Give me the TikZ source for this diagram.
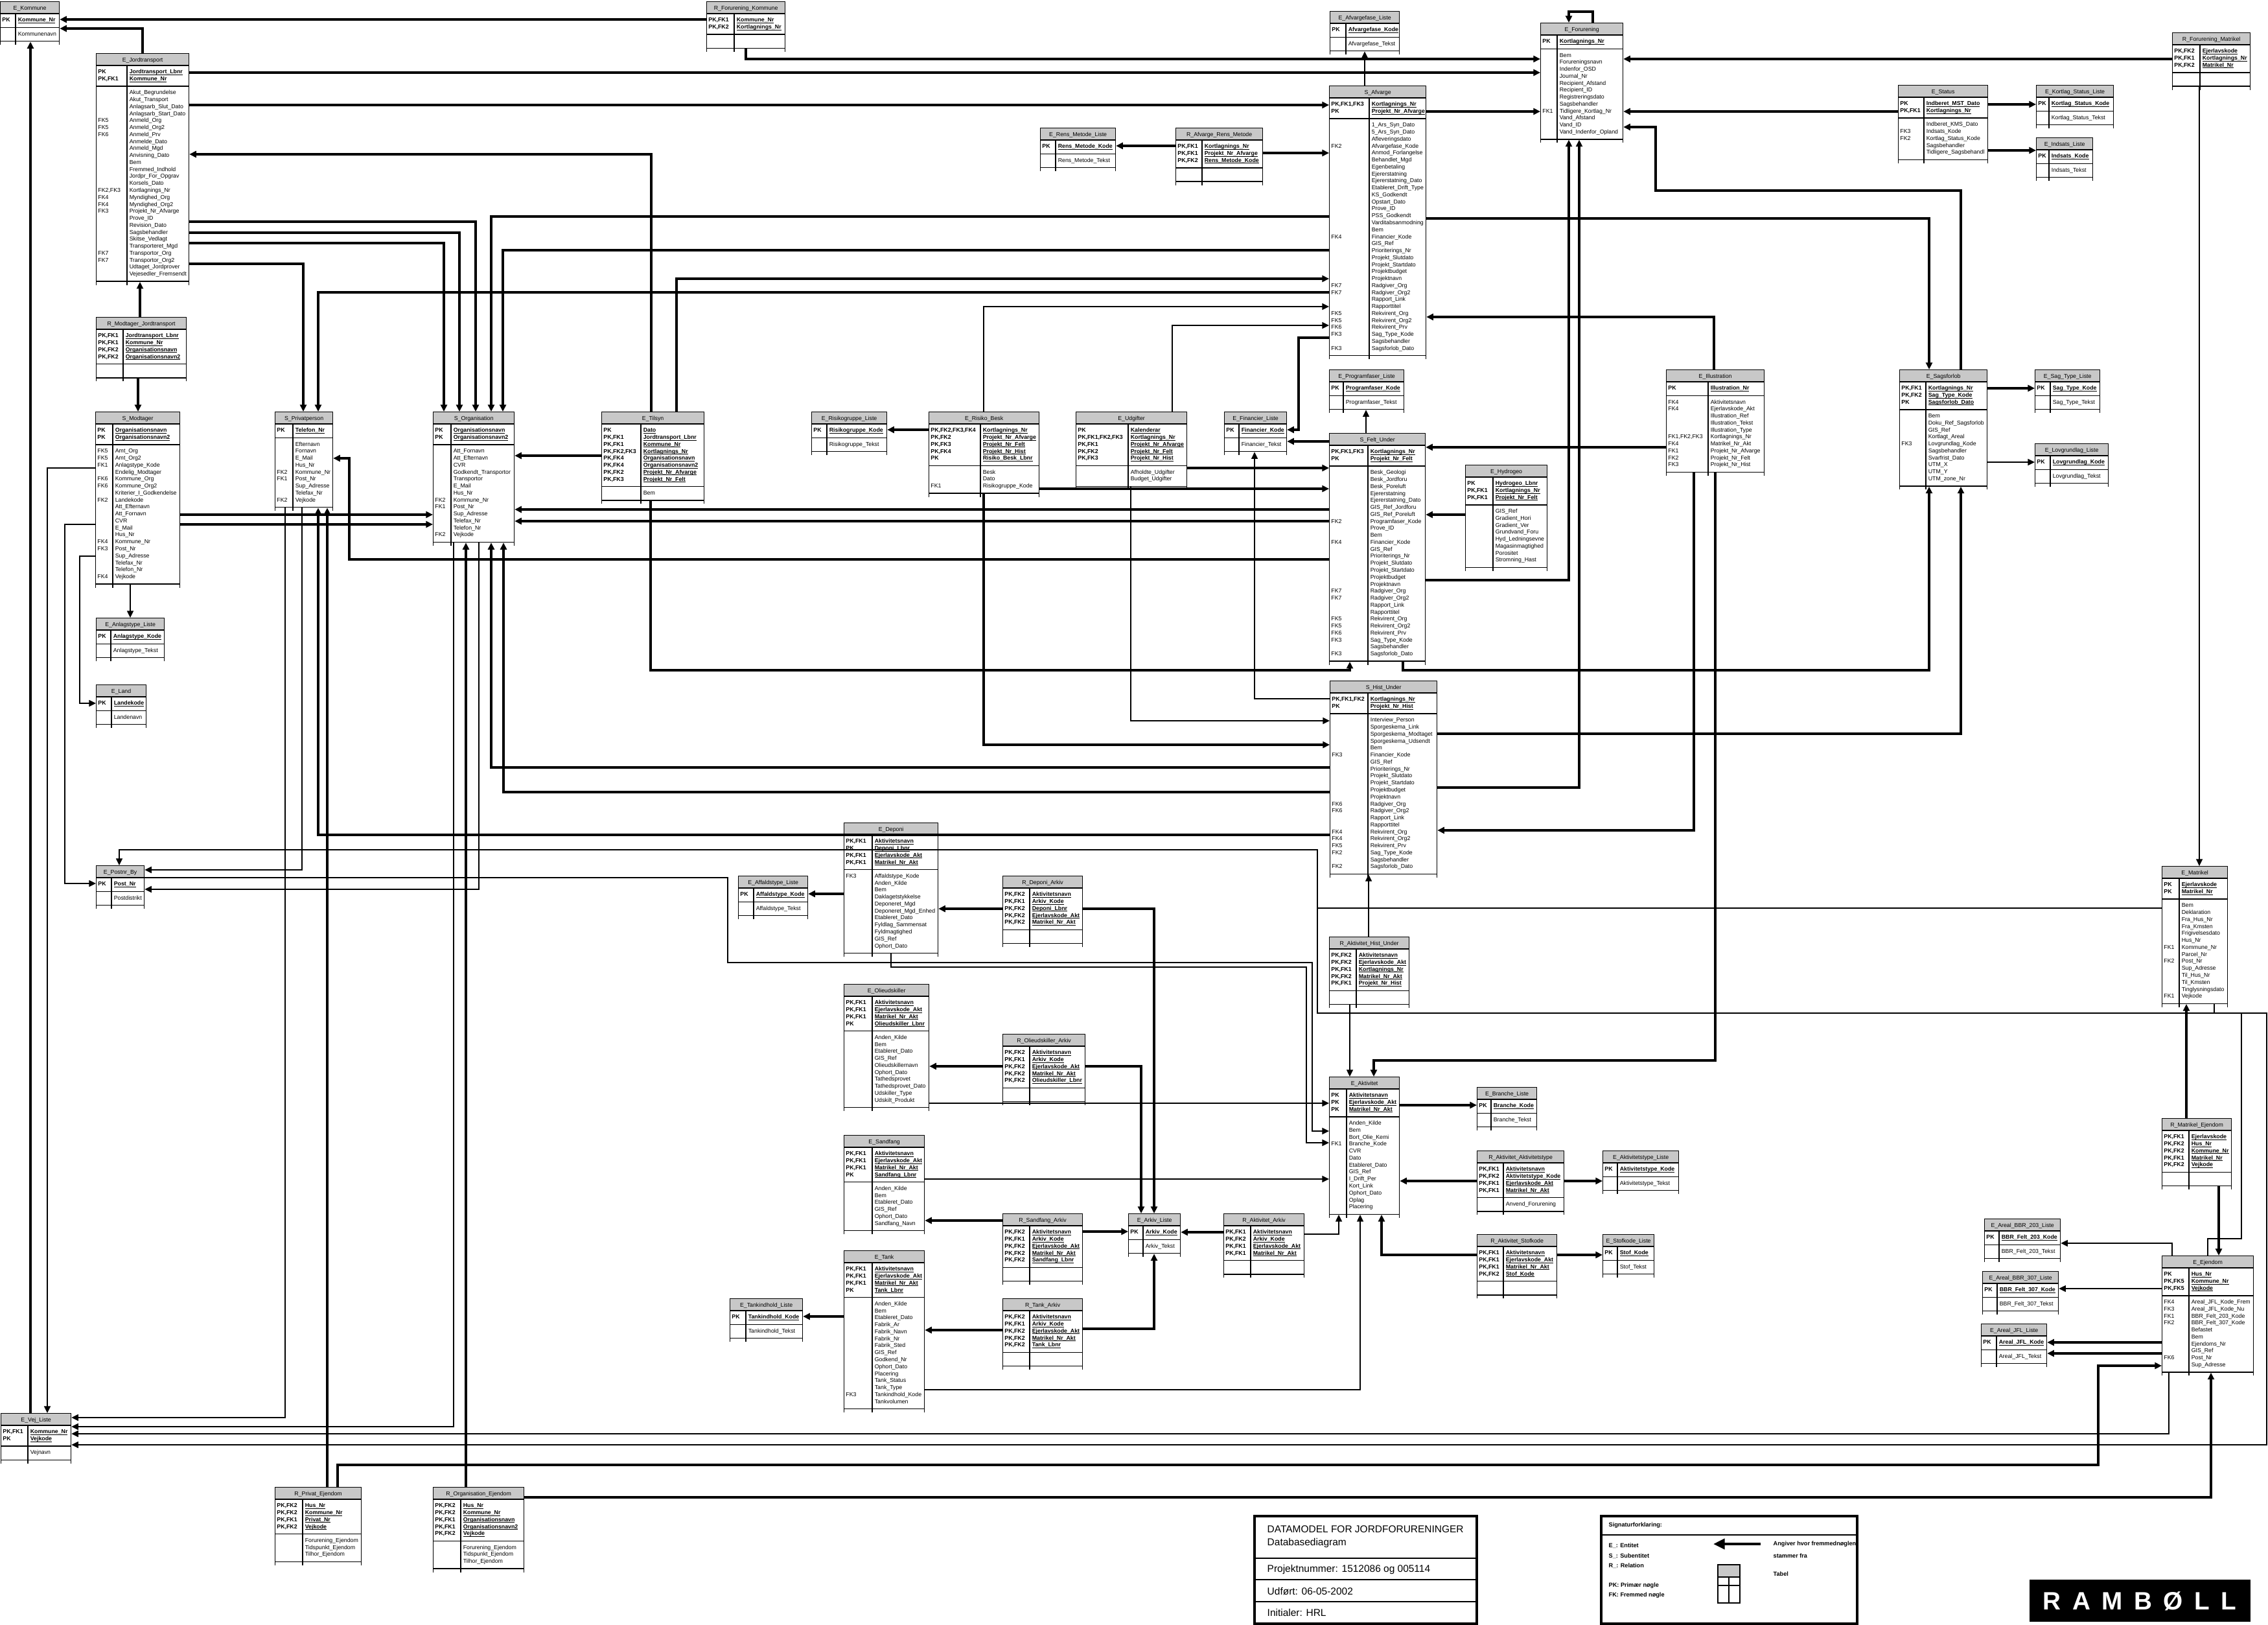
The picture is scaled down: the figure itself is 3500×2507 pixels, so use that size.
\documentclass[tikz,border=0pt]{standalone}
\usepackage{fontspec}
\setmainfont{Liberation Sans}
\usepackage{array}
\usepackage{xcolor}
\usepackage{tikz}
\usetikzlibrary{arrows.meta,backgrounds}

\definecolor{ttlgray}{RGB}{200,200,200}
\newlength{\pxl}
\setlength{\pxl}{0.01cm}
\newcommand{\tabfont}{\fontsize{2.5}{3.06}\selectfont}
\newcommand{\ukey}[1]{\setbox0=\hbox{#1}\rlap{\rule[-0.5pt]{\wd0}{0.22pt}}\box0}
\newcommand{\pk}[2]{\textbf{#1}&\ukey{\textbf{#2}}\\}
\newcommand{\at}[2]{#1&#2\\}
\newcommand{\pad}{&\\[-1.76pt]}
% table: name, position, key width, name width, title, keys, attributes
\newcommand{\tabel}[7]{%
  \node[tbl] (#1) at (#2) {\begin{tabular}{|@{\hspace{2\pxl}}w{l}{#3\pxl}@{\hspace{1\pxl}}|@{\hspace{3\pxl}}w{l}{#4\pxl}@{\hspace{1\pxl}}|}
    \hline\multicolumn{2}{|@{}c@{}|}{\rule[-1.47pt]{0pt}{4.8pt}#5}\\\hline
    \pad#6\pad\hline\pad#7\pad\hline\end{tabular}};
  \begin{pgfonlayer}{background}
    \fill[ttlgray] (#1.north west) rectangle ([yshift=-5.25pt]#1.north east);
  \end{pgfonlayer}}

\begin{document}
\catcode`\_=12
\begin{tikzpicture}[x=0.01cm, y=-0.01cm,
  tbl/.style={anchor=north west, inner sep=0pt, outer sep=0pt, font=\tabfont},
  rel/.style={line width=0.45pt, -{Triangle[length=3pt,width=2.8pt]}},
  relb/.style={line width=0.9pt, -{Triangle[length=3pt,width=2.8pt]}},
  lnk/.style={line width=0.45pt},
  txt/.style={anchor=west, inner sep=0pt, font=\fontsize{4.4}{5}\selectfont},
  leg/.style={anchor=west, inner sep=0pt, font=\fontsize{2.6}{3.2}\selectfont\bfseries}]
\useasboundingbox (0,0) rectangle (3500,2507);

% tables, left part
\tabel{kom}{0,2}{19}{62}{E_Kommune}{\pk{PK}{Kommune_Nr}}{\at{}{Kommunenavn}}
\tabel{rforkom}{1090,2}{38}{73}{R_Forurening_Kommune}{\pk{PK,FK1}{Kommune_Nr}\pk{PK,FK2}{Kortlagnings_Nr}}{\at{}{}}
\tabel{jord}{148,82}{43}{90}{E_Jordtransport}{\pk{PK}{Jordtransport_Lbnr}\pk{PK,FK1}{Kommune_Nr}}{\at{}{Akut_Begrundelse}\at{}{Akut_Transport}\at{}{Anlagsarb_Slut_Dato}\at{}{Anlagsarb_Start_Dato}\at{FK5}{Anmeld_Org}\at{FK5}{Anmeld_Org2}\at{FK6}{Anmeld_Prv}\at{}{Anmelde_Dato}\at{}{Anmeld_Mgd}\at{}{Anvisning_Dato}\at{}{Bem}\at{}{Fremmed_Indhold}\at{}{Jordpr_For_Opgrav}\at{}{Korsels_Dato}\at{FK2,FK3}{Kortlagnings_Nr}\at{FK4}{Myndighed_Org}\at{FK4}{Myndighed_Org2}\at{FK3}{Projekt_Nr_Afvarge}\at{}{Prove_ID}\at{}{Revision_Dato}\at{}{Sagsbehandler}\at{}{Skitse_Vedlagt}\at{}{Transporteret_Mgd}\at{FK7}{Transportor_Org}\at{FK7}{Transportor_Org2}\at{}{Udtaget_Jordprover}\at{}{Vejesedler_Fremsendt}}
\tabel{rmodjord}{148,489}{37}{92}{R_Modtager_Jordtransport}{\pk{PK,FK1}{Jordtransport_Lbnr}\pk{PK,FK1}{Kommune_Nr}\pk{PK,FK2}{Organisationsnavn}\pk{PK,FK2}{Organisationsnavn2}}{\at{}{}}
\tabel{smod}{147,635}{22}{98}{S_Modtager}{\pk{PK}{Organisationsnavn}\pk{PK}{Organisationsnavn2}}{\at{FK5}{Amt_Org}\at{FK5}{Amt_Org2}\at{FK1}{Anlagstype_Kode}\at{}{Endelig_Modtager}\at{FK6}{Kommune_Org}\at{FK6}{Kommune_Org2}\at{}{Kriterier_I_Godkendelse}\at{FK2}{Landekode}\at{}{Att_Efternavn}\at{}{Att_Fornavn}\at{}{CVR}\at{}{E_Mail}\at{}{Hus_Nr}\at{FK4}{Kommune_Nr}\at{FK3}{Post_Nr}\at{}{Sup_Adresse}\at{}{Telefax_Nr}\at{}{Telefon_Nr}\at{FK4}{Vejkode}}
\tabel{anlag}{148,953}{18}{77}{E_Anlagstype_Liste}{\pk{PK}{Anlagstype_Kode}}{\at{}{Anlagstype_Tekst}}
\tabel{sprv}{424,635}{23}{56}{S_Privatperson}{\pk{PK}{Telefon_Nr}}{\at{}{Efternavn}\at{}{Fornavn}\at{}{E_Mail}\at{}{Hus_Nr}\at{FK2}{Kommune_Nr}\at{FK1}{Post_Nr}\at{}{Sup_Adresse}\at{}{Telefax_Nr}\at{FK2}{Vejkode}}
\tabel{sorg}{668,635}{23}{92}{S_Organisation}{\pk{PK}{Organisationsnavn}\pk{PK}{Organisationsnavn2}}{\at{}{Att_Fornavn}\at{}{Att_Efternavn}\at{}{CVR}\at{}{Godkendt_Transportor}\at{}{Transportor}\at{}{E_Mail}\at{}{Hus_Nr}\at{FK2}{Kommune_Nr}\at{FK1}{Post_Nr}\at{}{Sup_Adresse}\at{}{Telefax_Nr}\at{}{Telefon_Nr}\at{FK2}{Vejkode}}
\tabel{tilsyn}{928,635}{56}{92}{E_Tilsyn}{\pk{PK}{Dato}\pk{PK,FK1}{Jordtransport_Lbnr}\pk{PK,FK1}{Kommune_Nr}\pk{PK,FK2,FK3}{Kortlagnings_Nr}\pk{PK,FK4}{Organisationsnavn}\pk{PK,FK4}{Organisationsnavn2}\pk{PK,FK2}{Projekt_Nr_Afvarge}\pk{PK,FK3}{Projekt_Nr_Felt}}{\at{}{Bem}}
\tabel{land}{148,1056}{19}{48}{E_Land}{\pk{PK}{Landekode}}{\at{}{Landenavn}}
\tabel{post}{148,1335}{19}{45}{E_Postnr_By}{\pk{PK}{Post_Nr}}{\at{}{Postdistrikt}}
\tabel{vej}{1,2180}{37}{61}{E_Vej_Liste}{\pk{PK,FK1}{Kommune_Nr}\pk{PK}{Vejkode}}{\at{}{Vejnavn}}
\tabel{rprvejd}{424,2294}{38}{85}{R_Privat_Ejendom}{\pk{PK,FK2}{Hus_Nr}\pk{PK,FK2}{Kommune_Nr}\pk{PK,FK1}{Privat_Nr}\pk{PK,FK2}{Vejkode}}{\at{}{Forurening_Ejendom}\at{}{Tidspunkt_Ejendom}\at{}{Tilhor_Ejendom}}
\tabel{rorgejd}{668,2294}{38}{92}{R_Organisation_Ejendom}{\pk{PK,FK2}{Hus_Nr}\pk{PK,FK2}{Kommune_Nr}\pk{PK,FK1}{Organisationsnavn}\pk{PK,FK1}{Organisationsnavn2}\pk{PK,FK2}{Vejkode}}{\at{}{Forurening_Ejendom}\at{}{Tidspunkt_Ejendom}\at{}{Tilhor_Ejendom}}

% tables, middle part
\tabel{risgrp}{1252,635}{19}{87}{E_Risikogruppe_Liste}{\pk{PK}{Risikogruppe_Kode}}{\at{}{Risikogruppe_Tekst}}
\tabel{risbesk}{1433,635}{75}{85}{E_Risiko_Besk}{\pk{PK,FK2,FK3,FK4}{Kortlagnings_Nr}\pk{PK,FK2}{Projekt_Nr_Afvarge}\pk{PK,FK3}{Projekt_Nr_Felt}\pk{PK,FK4}{Projekt_Nr_Hist}\pk{PK}{Risiko_Besk_Lbnr}}{\at{}{Besk}\at{}{Dato}\at{FK1}{Risikogruppe_Kode}}
\tabel{udg}{1660,635}{76}{85}{E_Udgifter}{\pk{PK}{Kalenderar}\pk{PK,FK1,FK2,FK3}{Kortlagnings_Nr}\pk{PK,FK1}{Projekt_Nr_Afvarge}\pk{PK,FK2}{Projekt_Nr_Felt}\pk{PK,FK3}{Projekt_Nr_Hist}}{\at{}{Afholdte_Udgifter}\at{}{Budget_Udgifter}}
\tabel{fin}{1889,635}{18}{68}{E_Financier_Liste}{\pk{PK}{Financier_Kode}}{\at{}{Financier_Tekst}}
\tabel{rens}{1605,197}{19}{87}{E_Rens_Metode_Liste}{\pk{PK}{Rens_Metode_Kode}}{\at{}{Rens_Metode_Tekst}}
\tabel{rafvrens}{1814,197}{36}{88}{R_Afvarge_Rens_Metode}{\pk{PK,FK1}{Kortlagnings_Nr}\pk{PK,FK1}{Projekt_Nr_Afvarge}\pk{PK,FK2}{Rens_Metode_Kode}}{\at{}{}}
\tabel{afvfase}{2052,17}{20}{77}{E_Afvargefase_Liste}{\pk{PK}{Afvargefase_Kode}}{\at{}{Afvargefase_Tekst}}
\tabel{forur}{2377,35}{21}{96}{E_Forurening}{\pk{PK}{Kortlagnings_Nr}}{\at{}{Bem}\at{}{Forureningsnavn}\at{}{Indenfor_OSD}\at{}{Journal_Nr}\at{}{Recipient_Afstand}\at{}{Recipient_ID}\at{}{Registreringsdato}\at{}{Sagsbehandler}\at{FK1}{Tidligere_Kortlag_Nr}\at{}{Vand_Afstand}\at{}{Vand_ID}\at{}{Vand_Indenfor_Opland}}
\tabel{safv}{2051,132}{57}{82}{S_Afvarge}{\pk{PK,FK1,FK3}{Kortlagnings_Nr}\pk{PK}{Projekt_Nr_Afvarge}}{\at{}{1_Ars_Syn_Dato}\at{}{5_Ars_Syn_Dato}\at{}{Afleveringsdato}\at{FK2}{Afvargefase_Kode}\at{}{Anmod_Forlangelse}\at{}{Behandlet_Mgd}\at{}{Egenbetaling}\at{}{Ejererstatning}\at{}{Ejererstatning_Dato}\at{}{Etableret_Drift_Type}\at{}{KS_Godkendt}\at{}{Opstart_Dato}\at{}{Prove_ID}\at{}{PSS_Godkendt}\at{}{Varditabsanmodning}\at{}{Bem}\at{FK4}{Financier_Kode}\at{}{GIS_Ref}\at{}{Prioriterings_Nr}\at{}{Projekt_Slutdato}\at{}{Projekt_Startdato}\at{}{Projektbudget}\at{}{Projektnavn}\at{FK7}{Radgiver_Org}\at{FK7}{Radgiver_Org2}\at{}{Rapport_Link}\at{}{Rapporttitel}\at{FK5}{Rekvirent_Org}\at{FK5}{Rekvirent_Org2}\at{FK6}{Rekvirent_Prv}\at{FK3}{Sag_Type_Kode}\at{}{Sagsbehandler}\at{FK3}{Sagsforlob_Dato}}
\tabel{prog}{2051,570}{17}{88}{E_Programfaser_Liste}{\pk{PK}{Programfaser_Kode}}{\at{}{Programfaser_Tekst}}
\tabel{sfelt}{2051,668}{55}{83}{S_Felt_Under}{\pk{PK,FK1,FK3}{Kortlagnings_Nr}\pk{PK}{Projekt_Nr_Felt}}{\at{}{Besk_Geologi}\at{}{Besk_Jordforu}\at{}{Besk_Poreluft}\at{}{Ejererstatning}\at{}{Ejererstatning_Dato}\at{}{GIS_Ref_Jordforu}\at{}{GIS_Ref_Poreluft}\at{FK2}{Programfaser_Kode}\at{}{Prove_ID}\at{}{Bem}\at{FK4}{Financier_Kode}\at{}{GIS_Ref}\at{}{Prioriterings_Nr}\at{}{Projekt_Slutdato}\at{}{Projekt_Startdato}\at{}{Projektbudget}\at{}{Projektnavn}\at{FK7}{Radgiver_Org}\at{FK7}{Radgiver_Org2}\at{}{Rapport_Link}\at{}{Rapporttitel}\at{FK5}{Rekvirent_Org}\at{FK5}{Rekvirent_Org2}\at{FK6}{Rekvirent_Prv}\at{FK3}{Sag_Type_Kode}\at{}{Sagsbehandler}\at{FK3}{Sagsforlob_Dato}}
\tabel{hydro}{2261,717}{38}{78}{E_Hydrogeo}{\pk{PK}{Hydrogeo_Lbnr}\pk{PK,FK1}{Kortlagnings_Nr}\pk{PK,FK1}{Projekt_Nr_Felt}}{\at{}{GIS_Ref}\at{}{Gradient_Hori}\at{}{Gradient_Ver}\at{}{Grundvand_Foru}\at{}{Hyd_Ledningsevne}\at{}{Magasinmagtighed}\at{}{Porositet}\at{}{Stromning_Hast}}
\tabel{shist}{2052,1050}{54}{101}{S_Hist_Under}{\pk{PK,FK1,FK2}{Kortlagnings_Nr}\pk{PK}{Projekt_Nr_Hist}}{\at{}{Interview_Person}\at{}{Sporgeskema_Link}\at{}{Sporgeskema_Modtaget}\at{}{Sporgeskema_Udsendt}\at{}{Bem}\at{FK3}{Financier_Kode}\at{}{GIS_Ref}\at{}{Prioriterings_Nr}\at{}{Projekt_Slutdato}\at{}{Projekt_Startdato}\at{}{Projektbudget}\at{}{Projektnavn}\at{FK6}{Radgiver_Org}\at{FK6}{Radgiver_Org2}\at{}{Rapport_Link}\at{}{Rapporttitel}\at{FK4}{Rekvirent_Org}\at{FK4}{Rekvirent_Org2}\at{FK5}{Rekvirent_Prv}\at{FK2}{Sag_Type_Kode}\at{}{Sagsbehandler}\at{FK2}{Sagsforlob_Dato}}
\tabel{rakthist}{2051,1445}{37}{76}{R_Aktivitet_Hist_Under}{\pk{PK,FK2}{Aktivitetsnavn}\pk{PK,FK2}{Ejerlavskode_Akt}\pk{PK,FK1}{Kortlagnings_Nr}\pk{PK,FK2}{Matrikel_Nr_Akt}\pk{PK,FK1}{Projekt_Nr_Hist}}{\at{}{}}
\tabel{akt}{2051,1661}{22}{76}{E_Aktivitet}{\pk{PK}{Aktivitetsnavn}\pk{PK}{Ejerlavskode_Akt}\pk{PK}{Matrikel_Nr_Akt}}{\at{}{Anden_Kilde}\at{}{Bem}\at{}{Bort_Olie_Kemi}\at{FK1}{Branche_Kode}\at{}{CVR}\at{}{Dato}\at{}{Etableret_Dato}\at{}{GIS_Ref}\at{}{I_Drift_Per}\at{}{Kort_Link}\at{}{Ophort_Dato}\at{}{Oplag}\at{}{Placering}}
\tabel{branche}{2279,1677}{17}{65}{E_Branche_Liste}{\pk{PK}{Branche_Kode}}{\at{}{Branche_Tekst}}
\tabel{raktt}{2279,1775}{36}{88}{R_Aktivitet_Aktivitetstype}{\pk{PK,FK1}{Aktivitetsnavn}\pk{PK,FK2}{Aktivitetstype_Kode}\pk{PK,FK1}{Ejerlavskode_Akt}\pk{PK,FK1}{Matrikel_Nr_Akt}}{\at{}{Anvend_Forurening}}
\tabel{akttype}{2473,1775}{18}{89}{E_Aktivitetstype_Liste}{\pk{PK}{Aktivitetstype_Kode}}{\at{}{Aktivitetstype_Tekst}}
\tabel{rstof}{2279,1904}{36}{77}{R_Aktivitet_Stofkode}{\pk{PK,FK1}{Aktivitetsnavn}\pk{PK,FK1}{Ejerlavskode_Akt}\pk{PK,FK1}{Matrikel_Nr_Akt}\pk{PK,FK2}{Stof_Kode}}{\at{}{}}
\tabel{stof}{2473,1904}{18}{51}{E_Stofkode_Liste}{\pk{PK}{Stof_Kode}}{\at{}{Stof_Tekst}}
\tabel{arkiv}{1741,1872}{18}{52}{E_Arkiv_Liste}{\pk{PK}{Arkiv_Kode}}{\at{}{Arkiv_Tekst}}
\tabel{raktark}{1888,1872}{37}{77}{R_Aktivitet_Arkiv}{\pk{PK,FK1}{Aktivitetsnavn}\pk{PK,FK2}{Arkiv_Kode}\pk{PK,FK1}{Ejerlavskode_Akt}\pk{PK,FK1}{Matrikel_Nr_Akt}}{\at{}{}}
\tabel{dep}{1302,1269}{39}{96}{E_Deponi}{\pk{PK,FK1}{Aktivitetsnavn}\pk{PK}{Deponi_Lbnr}\pk{PK,FK1}{Ejerlavskode_Akt}\pk{PK,FK1}{Matrikel_Nr_Akt}}{\at{FK3}{Affaldstype_Kode}\at{}{Anden_Kilde}\at{}{Bem}\at{}{Daklagetstykkelse}\at{}{Deponeret_Mgd}\at{}{Deponeret_Mgd_Enhed}\at{}{Etableret_Dato}\at{}{Fyldlag_Sammensat}\at{}{Fyldmagtighed}\at{}{GIS_Ref}\at{}{Ophort_Dato}}
\tabel{affald}{1139,1351}{19}{78}{E_Affaldstype_Liste}{\pk{PK}{Affaldstype_Kode}}{\at{}{Affaldstype_Tekst}}
\tabel{rdeparch}{1547,1351}{37}{76}{R_Deponi_Arkiv}{\pk{PK,FK2}{Aktivitetsnavn}\pk{PK,FK1}{Arkiv_Kode}\pk{PK,FK2}{Deponi_Lbnr}\pk{PK,FK2}{Ejerlavskode_Akt}\pk{PK,FK2}{Matrikel_Nr_Akt}}{\at{}{}}
\tabel{olie}{1302,1518}{39}{82}{E_Olieudskiller}{\pk{PK,FK1}{Aktivitetsnavn}\pk{PK,FK1}{Ejerlavskode_Akt}\pk{PK,FK1}{Matrikel_Nr_Akt}\pk{PK}{Olieudskiller_Lbnr}}{\at{}{Anden_Kilde}\at{}{Bem}\at{}{Etableret_Dato}\at{}{GIS_Ref}\at{}{Olieudskillernavn}\at{}{Ophort_Dato}\at{}{Tathedsprovet}\at{}{Tathedsprovet_Dato}\at{}{Udskiller_Type}\at{}{Udskilt_Produkt}}
\tabel{roliearch}{1547,1595}{37}{80}{R_Olieudskiller_Arkiv}{\pk{PK,FK2}{Aktivitetsnavn}\pk{PK,FK1}{Arkiv_Kode}\pk{PK,FK2}{Ejerlavskode_Akt}\pk{PK,FK2}{Matrikel_Nr_Akt}\pk{PK,FK2}{Olieudskiller_Lbnr}}{\at{}{}}
\tabel{sand}{1302,1751}{39}{75}{E_Sandfang}{\pk{PK,FK1}{Aktivitetsnavn}\pk{PK,FK1}{Ejerlavskode_Akt}\pk{PK,FK1}{Matrikel_Nr_Akt}\pk{PK}{Sandfang_Lbnr}}{\at{}{Anden_Kilde}\at{}{Bem}\at{}{Etableret_Dato}\at{}{GIS_Ref}\at{}{Ophort_Dato}\at{}{Sandfang_Navn}}
\tabel{rsandarch}{1547,1872}{37}{76}{R_Sandfang_Arkiv}{\pk{PK,FK2}{Aktivitetsnavn}\pk{PK,FK1}{Arkiv_Kode}\pk{PK,FK2}{Ejerlavskode_Akt}\pk{PK,FK2}{Matrikel_Nr_Akt}\pk{PK,FK2}{Sandfang_Lbnr}}{\at{}{}}
\tabel{tank}{1302,1929}{39}{75}{E_Tank}{\pk{PK,FK1}{Aktivitetsnavn}\pk{PK,FK1}{Ejerlavskode_Akt}\pk{PK,FK1}{Matrikel_Nr_Akt}\pk{PK}{Tank_Lbnr}}{\at{}{Anden_Kilde}\at{}{Bem}\at{}{Etableret_Dato}\at{}{Fabrik_Ar}\at{}{Fabrik_Navn}\at{}{Fabrik_Nr}\at{}{Fabrik_Sted}\at{}{GIS_Ref}\at{}{Godkend_Nr}\at{}{Ophort_Dato}\at{}{Placering}\at{}{Tank_Status}\at{}{Tank_Type}\at{FK3}{Tankindhold_Kode}\at{}{Tankvolumen}}
\tabel{tankind}{1126,2003}{20}{82}{E_Tankindhold_Liste}{\pk{PK}{Tankindhold_Kode}}{\at{}{Tankindhold_Tekst}}
\tabel{rtankarch}{1547,2003}{37}{76}{R_Tank_Arkiv}{\pk{PK,FK2}{Aktivitetsnavn}\pk{PK,FK1}{Arkiv_Kode}\pk{PK,FK2}{Ejerlavskode_Akt}\pk{PK,FK2}{Matrikel_Nr_Akt}\pk{PK,FK2}{Tank_Lbnr}}{\at{}{}}

% tables, right part
\tabel{status}{2929,131}{35}{93}{E_Status}{\pk{PK}{Indberet_MST_Dato}\pk{PK,FK1}{Kortlagnings_Nr}}{\at{}{Indberet_KMS_Dato}\at{FK3}{Indsats_Kode}\at{FK2}{Kortlag_Status_Kode}\at{}{Sagsbehandler}\at{}{Tidligere_Sagsbehandl}}
\tabel{kstat}{3142,131}{15}{94}{E_Kortlag_Status_Liste}{\pk{PK}{Kortlag_Status_Kode}}{\at{}{Kortlag_Status_Tekst}}
\tabel{indsats}{3142,212}{15}{62}{E_Indsats_Liste}{\pk{PK}{Indsats_Kode}}{\at{}{Indsats_Tekst}}
\tabel{rformat}{3352,50}{38}{72}{R_Forurening_Matrikel}{\pk{PK,FK2}{Ejerlavskode}\pk{PK,FK1}{Kortlagnings_Nr}\pk{PK,FK2}{Matrikel_Nr}}{\at{}{}}
\tabel{illu}{2571,570}{60}{81}{E_Illustration}{\pk{PK}{Illustration_Nr}}{\at{FK4}{Aktivitetsnavn}\at{FK4}{Ejerlavskode_Akt}\at{}{Illustration_Ref}\at{}{Illustration_Tekst}\at{}{Illustration_Type}\at{FK1,FK2,FK3}{Kortlagnings_Nr}\at{FK4}{Matrikel_Nr_Akt}\at{FK1}{Projekt_Nr_Afvarge}\at{FK2}{Projekt_Nr_Felt}\at{FK3}{Projekt_Nr_Hist}}
\tabel{sags}{2931,570}{36}{89}{E_Sagsforlob}{\pk{PK,FK1}{Kortlagnings_Nr}\pk{PK,FK2}{Sag_Type_Kode}\pk{PK}{Sagsforlob_Dato}}{\at{}{Bem}\at{}{Doku_Ref_Sagsforlob}\at{}{GIS_Ref}\at{}{Kortlagt_Areal}\at{FK3}{Lovgrundlag_Kode}\at{}{Sagsbehandler}\at{}{Svarfrist_Dato}\at{}{UTM_X}\at{}{UTM_Y}\at{}{UTM_zone_Nr}}
\tabel{sagtype}{3140,570}{19}{71}{E_Sag_Type_Liste}{\pk{PK}{Sag_Type_Kode}}{\at{}{Sag_Type_Tekst}}
\tabel{lov}{3140,684}{19}{84}{E_Lovgrundlag_Liste}{\pk{PK}{Lovgrundlag_Kode}}{\at{}{Lovgrundlag_Tekst}}
\tabel{matr}{3336,1336}{22}{69}{E_Matrikel}{\pk{PK}{Ejerlavskode}\pk{PK}{Matrikel_Nr}}{\at{}{Bem}\at{}{Deklaration}\at{}{Fra_Hus_Nr}\at{}{Fra_Kmsten}\at{}{Frigivelsesdato}\at{}{Hus_Nr}\at{FK1}{Kommune_Nr}\at{}{Parcel_Nr}\at{FK2}{Post_Nr}\at{}{Sup_Adresse}\at{}{Til_Hus_Nr}\at{}{Til_Kmsten}\at{}{Tinglysningsdato}\at{FK1}{Vejkode}}
\tabel{rmatejd}{3336,1725}{37}{60}{R_Matrikel_Ejendom}{\pk{PK,FK1}{Ejerlavskode}\pk{PK,FK2}{Hus_Nr}\pk{PK,FK2}{Kommune_Nr}\pk{PK,FK1}{Matrikel_Nr}\pk{PK,FK2}{Vejkode}}{\at{}{}}
\tabel{ejd}{3336,1937}{37}{94}{E_Ejendom}{\pk{PK}{Hus_Nr}\pk{PK,FK5}{Kommune_Nr}\pk{PK,FK5}{Vejkode}}{\at{FK4}{Areal_JFL_Kode_Frem}\at{FK3}{Areal_JFL_Kode_Nu}\at{FK1}{BBR_Felt_203_Kode}\at{FK2}{BBR_Felt_307_Kode}\at{}{Befastet}\at{}{Bem}\at{}{Ejendoms_Nr}\at{}{GIS_Ref}\at{FK6}{Post_Nr}\at{}{Sup_Adresse}}
\tabel{bbr203}{3062,1880}{18}{89}{E_Areal_BBR_203_Liste}{\pk{PK}{BBR_Felt_203_Kode}}{\at{}{BBR_Felt_203_Tekst}}
\tabel{bbr307}{3059,1961}{18}{89}{E_Areal_BBR_307_Liste}{\pk{PK}{BBR_Felt_307_Kode}}{\at{}{BBR_Felt_307_Tekst}}
\tabel{jfl}{3057,2042}{19}{72}{E_Areal_JFL_Liste}{\pk{PK}{Areal_JFL_Kode}}{\at{}{Areal_JFL_Tekst}}

% connectors, top left
\draw[relb] (rforkom.west |- 0,30) -- (kom.east |- 0,30);
\draw[relb] (220,0 |- jord.north) |- (kom.east |- 0,44);
\draw[relb] (47,0 |- vej.north) -- (47,0 |- kom.south);
\draw[relb] (1151,0 |- rforkom.south) |- (forur.west |- 0,91);
\draw[relb] (jord.east |- 0,112) -- (forur.west |- 0,112);
\draw[relb] (jord.east |- 0,162) -- (safv.west |- 0,162);
\draw[relb] (1005,0 |- tilsyn.north) |- (jord.east |- 0,238);
\draw[relb] (jord.east |- 0,342) -| (734,0 |- sorg.north);
\draw[relb] (jord.east |- 0,359) -| (709,0 |- sorg.north);
\draw[relb] (jord.east |- 0,375) -| (685,0 |- sorg.north);
\draw[relb] (jord.east |- 0,407) -| (468,0 |- sprv.north);
\draw[relb] (safv.west |- 0,334) -| (758,0 |- sorg.north);
\draw[relb] (safv.west |- 0,386) -| (776,0 |- sorg.north);
\draw[relb] (1044,0 |- tilsyn.north) |- (safv.west |- 0,430);
\draw[relb] (safv.west |- 0,451) -| (491,0 |- sprv.north);
\draw[rel] (1518,0 |- risbesk.north) |- (safv.west |- 0,473);
\draw[rel] (1809,0 |- udg.north) |- (safv.west |- 0,502);
\draw[relb] (safv.west |- 0,521) -| (2004,663) -- (fin.east |- 0,663);
\draw[relb] (sfelt.west |- 0,681) -- (fin.east |- 0,681);
\draw[rel] (shist.west |- 0,1078) -| (1936,0 |- fin.south);
\draw[relb] (rmodjord.north -| 216,0) -- (216,0 |- jord.south);
\draw[relb] (213,0 |- rmodjord.south) -- (213,0 |- smod.north);
\draw[rel] (201,0 |- smod.south) -- (201,0 |- anlag.north);
\draw[relb] (smod.east |- 0,794) -- (sorg.west |- 0,794);
\draw[relb] (smod.east |- 0,809) -- (sorg.west |- 0,809);
\draw[rel] (smod.west |- 0,722) -| (73,0 |- vej.north);
\draw[rel] (smod.west |- 0,809) -| (100,1363) -- (post.west |- 0,1363);
\draw[rel] (smod.west |- 0,858) -| (123,1085) -- (land.west |- 0,1085);
\draw[relb] (tilsyn.west |- 0,703) -- (sorg.east |- 0,703);
\draw[relb] (1004,0 |- tilsyn.south) |- (2083,1034) -- (2083,0 |- sfelt.south);
\draw[relb] (risbesk.west |- 0,663) -- (risgrp.east |- 0,663);
\draw[relb] (udg.east |- 0,722) -- (sfelt.west |- 0,722);
\draw[relb] (risbesk.east |- 0,754) -- (sfelt.west |- 0,754);
\draw[relb] (sfelt.west |- 0,786) -- (sorg.east |- 0,786);
\draw[relb] (sfelt.west |- 0,804) -- (sorg.east |- 0,804);
\draw[relb] (sfelt.west |- 0,863) -| (539,707) -- (sprv.east |- 0,707);
\draw[rel] (466,0 |- sprv.south) |- (post.east |- 0,1342);
\draw[rel] (739,0 |- sorg.south) |- (post.east |- 0,1372);
\draw[rel] (440,0 |- sprv.south) |- (vej.east |- 0,2187);
\draw[rel] (700,0 |- sorg.south) |- (vej.east |- 0,2201);
\draw[relb] (505,0 |- rprvejd.north) -- (505,0 |- sprv.south);
\draw[relb] (719,0 |- rorgejd.north) -- (719,0 |- sorg.south);
\draw[relb] (shist.west |- 0,1184) -| (758,0 |- sorg.south);
\draw[relb] (shist.west |- 0,1222) -| (777,0 |- sorg.south);
\draw[relb] (shist.west |- 0,1288) -| (491,0 |- sprv.south);
\draw[rel] (1745,0 |- udg.south) |- (shist.west |- 0,1112);
\draw[relb] (1518,0 |- risbesk.south) |- (shist.west |- 0,1149);

% connectors, top right
\draw[relb] (rformat.west |- 0,91) -- (forur.east |- 0,91);
\draw[relb] (safv.east |- 0,172) -- (forur.west |- 0,172);
\draw[rel] (2106,0 |- safv.north) -- (2106,0 |- afvfase.south);
\draw[relb] (rafvrens.west |- 0,225) -- (rens.east |- 0,225);
\draw[relb] (rafvrens.east |- 0,236) -- (safv.west |- 0,236);
\draw[relb] (status.west |- 0,172) -- (forur.east |- 0,172);
\draw[relb] (status.east |- 0,161) -- (kstat.west |- 0,161);
\draw[relb] (status.east |- 0,232) -- (indsats.west |- 0,232);
\draw[relb] (2458,0 |- forur.north) -- (2458,18) -| (2421,0 |- forur.north);
\draw[relb] (safv.east |- 0,337) -| (2977,0 |- sags.north);
\draw[relb] (3026,0 |- sags.north) |- (2555,294) |- (forur.east |- 0,196);
\draw[relb] (2645,0 |- illu.north) |- (safv.east |- 0,489);
\draw[relb] (illu.west |- 0,690) -- (sfelt.east |- 0,690);
\draw[relb] (hydro.west |- 0,794) -- (sfelt.east |- 0,794);
\draw[rel] (2108,0 |- sfelt.north) -- (2108,0 |- prog.south);
\draw[relb] (sfelt.east |- 0,895) -| (2421,0 |- forur.south);
\draw[relb] (shist.east |- 0,1215) -| (2437,0 |- forur.south);
\draw[relb] (2165,0 |- sfelt.south) |- (2977,1034) -- (2977,0 |- sags.south);
\draw[relb] (shist.east |- 0,1132) -| (3026,0 |- sags.south);
\draw[relb] (sags.east |- 0,599) -- (sagtype.west |- 0,599);
\draw[rel] (sags.east |- 0,713) -- (lov.west |- 0,713);
\draw[rel] (3394,0 |- rformat.south) -- (3394,0 |- matr.north);

% connectors, activities
\draw[relb] (akt.east |- 0,1705) -- (branche.west |- 0,1705);
\draw[relb] (raktt.west |- 0,1822) -- (akt.east |- 0,1822);
\draw[relb] (raktt.east |- 0,1822) -- (akttype.west |- 0,1822);
\draw[relb] (rstof.west |- 0,1936) -| (2132,0 |- akt.south);
\draw[relb] (rstof.east |- 0,1936) -- (stof.west |- 0,1936);
\draw[rel] (raktark.east |- 0,1904) -| (2066,0 |- akt.south);
\draw[relb] (raktark.west |- 0,1901) -- (arkiv.east |- 0,1901);
\draw[rel] (2112,0 |- rakthist.north) -- (2112,0 |- shist.south);
\draw[rel] (2083,0 |- rakthist.south) -- (2083,0 |- akt.north);
\draw[relb] (2614,0 |- illu.south) |- (shist.east |- 0,1281);
\draw[relb] (2647,0 |- illu.south) |- (2120,1636) -- (2120,0 |- akt.north);
\draw[rel] (olie.east |- 0,1702) -- (akt.west |- 0,1702);
\draw[rel] (sand.east |- 0,1819) -- (akt.west |- 0,1819);
\draw[rel] (tank.east |- 0,2144) -| (2099,0 |- akt.south);
\draw[rel] (1375,0 |- dep.south) |- (2016,1492) |- (akt.west |- 0,1763);
\draw[rel, {Triangle[length=3pt,width=2.8pt]}-] (akt.west |- 0,1745) -| (2025,1485) -| (1123,1354) -- (post.east |- 0,1354);
\draw[relb] (rdeparch.east |- 0,1402) -| (1781,0 |- arkiv.north);
\draw[relb] (roliearch.east |- 0,1645) -| (1761,0 |- arkiv.north);
\draw[relb] (rsandarch.east |- 0,1900) -- (arkiv.west |- 0,1900);
\draw[relb] (rtankarch.east |- 0,2050) -| (1781,0 |- arkiv.south);
\draw[relb] (rdeparch.west |- 0,1402) -- (dep.east |- 0,1402);
\draw[relb] (roliearch.west |- 0,1645) -- (olie.east |- 0,1645);
\draw[relb] (rsandarch.west |- 0,1883) -- (sand.east |- 0,1883);
\draw[relb] (rtankarch.west |- 0,2052) -- (tank.east |- 0,2052);
\draw[relb] (dep.west |- 0,1379) -- (affald.east |- 0,1379);
\draw[relb] (tank.west |- 0,2031) -- (tankind.east |- 0,2031);

% connectors, property
\draw[rel] (matr.west |- 0,1401) -| (2033,1311) -| (184,0 |- post.north);
\draw[rel] (matr.west |- 0,1401) -| (2033,1563) -- (3498,1563) |- (vej.east |- 0,2229);
\draw[relb] (3374,0 |- rmatejd.north) -- (3374,0 |- matr.south);
\draw[relb] (3424,0 |- rmatejd.south) -- (3424,0 |- ejd.north);
\draw[lnk] (3417,0 |- matr.south) |- (3459,1563) |- (3407,1911) -- (3407,0 |- ejd.north);
\draw[rel] (3352,0 |- ejd.north) |- (bbr203.east |- 0,1918);
\draw[rel] (ejd.west |- 0,1988) -- (bbr307.east |- 0,1988);
\draw[relb] (ejd.west |- 0,2071) -- (jfl.east |- 0,2071);
\draw[relb] (ejd.west |- 0,2088) -- (jfl.east |- 0,2088);
\draw[relb] (521,0 |- rprvejd.north) |- (3238,2260) |- (ejd.west |- 0,2107);
\draw[relb] (rorgejd.east |- 0,2310) -| (3412,0 |- ejd.south);
\draw[rel] (3347,0 |- ejd.south) |- (vej.east |- 0,2212);

% title block
\draw[line width=1pt] (1936,2339) rectangle (2279,2505);
\draw[line width=0.6pt] (1936,2404) -- (2279,2404) (1936,2437) -- (2279,2437) (1936,2471) -- (2279,2471);
\node[txt] (ttl1) at (1955,2359) {DATAMODEL FOR JORDFORURENINGER};
\node[txt] (ttl2) at (1955,2380) {Databasediagram};
\node[txt] (ttl3) at (1955,2421) {Projektnummer: 1512086 og 005114};
\node[txt] (ttl4) at (1955,2455) {Udført: 06-05-2002};
\node[txt] (ttl5) at (1955,2488) {Initialer: HRL};

% legend
\draw[line width=1pt] (2471,2339) rectangle (2866,2505);
\draw[line width=0.6pt] (2471,2368) -- (2866,2368);
\node[leg] (lg0) at (2482,2353) {Signaturforklaring:};
\node[leg] (lg1) at (2482,2385) {E_: Entitet};
\node[leg] (lg2) at (2482,2401) {S_: Subentitet};
\node[leg] (lg3) at (2482,2416) {R_: Relation};
\node[leg] (lg4) at (2482,2446) {PK: Primær nøgle};
\node[leg] (lg5) at (2482,2461) {FK: Fremmed nøgle};
\node[leg] (lg6) at (2736,2382) {Angiver hvor fremmednøglen};
\node[leg] (lg7) at (2736,2400) {stammer fra};
\node[leg] (lg8) at (2736,2428) {Tabel};
\coordinate (la) at (2717,2382);
\coordinate (lb) at (2644,2382);
\draw[line width=1.2pt, -{Triangle[length=5pt,width=4.5pt]}] (la) -- (lb);
\fill[ttlgray] (2651,2414) rectangle (2685,2433);
\draw[line width=0.5pt] (2651,2414) rectangle (2685,2473) (2651,2433) -- (2685,2433) (2651,2446) -- (2685,2446) (2668,2433) -- (2668,2473);

% logo
\fill (3132,2437) rectangle (3473,2502);
\node[text=white, font=\fontsize{11}{12}\selectfont\bfseries] (logo) at (3302,2470) {R\hspace{5pt}A\hspace{5pt}M\hspace{5pt}B\hspace{5pt}Ø\hspace{5pt}L\hspace{5pt}L};
\end{tikzpicture}
\end{document}
